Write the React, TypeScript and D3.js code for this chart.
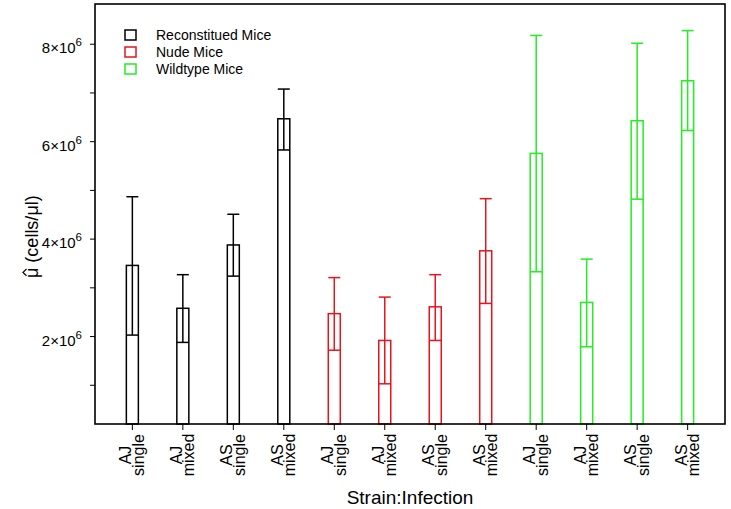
import React from 'react';
import * as d3 from 'd3';

const width = 731;
const height = 509;
const margin = { top: 4, right: 6, bottom: 85, left: 95 };
const font = '"Liberation Sans", Arial, Helvetica, sans-serif';

const groups = ['Reconstitued Mice', 'Nude Mice', 'Wildtype Mice'];
const groupColors = ['#000000', '#e8141c', '#22ee22'];
const strains = ['AJ', 'AJ', 'AS', 'AS'];
const infections = ['single', 'mixed', 'single', 'mixed'];

// cells/ul, in group order
const means = [3.46e6, 2.58e6, 3.88e6, 6.47e6, 2.47e6, 1.92e6, 2.61e6, 3.76e6, 5.76e6, 2.7e6, 6.43e6, 7.25e6];
const lowers = [2.03e6, 1.88e6, 3.24e6, 5.83e6, 1.72e6, 1.03e6, 1.92e6, 2.68e6, 3.33e6, 1.79e6, 4.82e6, 6.23e6];
const uppers = [4.87e6, 3.27e6, 4.51e6, 7.08e6, 3.21e6, 2.81e6, 3.27e6, 4.83e6, 8.18e6, 3.59e6, 8.02e6, 8.28e6];

const majorTicks = [2e6, 4e6, 6e6, 8e6];
const minorTicks = [1e6, 3e6, 5e6, 7e6];

const bars = means.map((m, i) => ({
  key: 'c' + i,
  group: Math.floor(i / 4),
  strain: strains[i % 4],
  infection: infections[i % 4],
  mean: m,
  lower: lowers[i],
  upper: uppers[i]
}));

const xScale = d3
  .scalePoint()
  .domain(bars.map(d => d.key))
  .range([margin.left, width - margin.right])
  .padding(0.74);

const yScale = d3
  .scaleLinear()
  .domain([0.205e6, 8.826e6])
  .range([height - margin.bottom, margin.top]);

const barWidth = 12;

export default function App() {
  const x0 = margin.left;
  const x1 = width - margin.right;
  const y0 = height - margin.bottom;
  const y1 = margin.top;
  return (
    <svg
      width={width}
      height={height}
      style={{ position: 'absolute', left: 0, top: 0, background: '#fff' }}
      fontFamily={font}
    >
      {bars.map(d => {
        const cx = xScale(d.key);
        const color = groupColors[d.group];
        const left = cx - barWidth / 2;
        return (
          <g key={d.key} stroke={color} strokeWidth={1.5} fill="none">
            <rect x={left} y={yScale(d.mean)} width={barWidth} height={y0 - yScale(d.mean)} />
            <line x1={cx} x2={cx} y1={yScale(d.lower)} y2={yScale(d.upper)} />
            <line x1={left} x2={left + barWidth} y1={yScale(d.lower)} y2={yScale(d.lower)} />
            <line x1={left} x2={left + barWidth} y1={yScale(d.upper)} y2={yScale(d.upper)} />
          </g>
        );
      })}

      <rect x={x0} y={y1} width={x1 - x0} height={y0 - y1} fill="none" stroke="#000" strokeWidth={1.6} />

      {majorTicks.concat(minorTicks).map(t => (
        <line key={'yt' + t} x1={x0 - 5} x2={x0} y1={yScale(t)} y2={yScale(t)} stroke="#000" strokeWidth={1} />
      ))}
      {majorTicks.map(t => (
        <text key={'yl' + t} x={82} y={yScale(t) + 9} textAnchor="end" fontSize={15} fill="#000">
          {t / 1e6 + '\u00d710'}
          <tspan fontSize={11.5} dy={-7}>6</tspan>
        </text>
      ))}

      {bars.map(d => {
        const cx = xScale(d.key);
        return (
          <g key={'xl' + d.key}>
            <line x1={cx} x2={cx} y1={y0} y2={y0 + 6} stroke="#000" strokeWidth={1} />
            <text transform={`translate(${cx - 1},455) rotate(-90)`} textAnchor="middle" fontSize={16} fill="#000">
              {d.strain}
            </text>
            <text transform={`translate(${cx + 11.5},455) rotate(-90)`} textAnchor="middle" fontSize={16} fill="#000">
              {d.infection}
            </text>
          </g>
        );
      })}

      <text x={(x0 + x1) / 2} y={504} textAnchor="middle" fontSize={19} fill="#000">
        Strain:Infection
      </text>
      <g transform="translate(38,278) rotate(-90)" fill="#000">
        <text x={0} y={0} fontSize={18}>{'\u03bc (cells/\u03bcl)'}</text>
        <path d="M2.2,-11.5 L5.6,-15 L9,-11.5" fill="none" stroke="#000" strokeWidth={1.2} />
      </g>

      {groups.map((g, i) => (
        <g key={g}>
          <rect x={125} y={30 + i * 17} width={11} height={10} fill="none" stroke={groupColors[i]} strokeWidth={1.5} />
          <text x={156} y={40 + i * 17} fontSize={14} fill="#000">
            {g}
          </text>
        </g>
      ))}
    </svg>
  );
}
